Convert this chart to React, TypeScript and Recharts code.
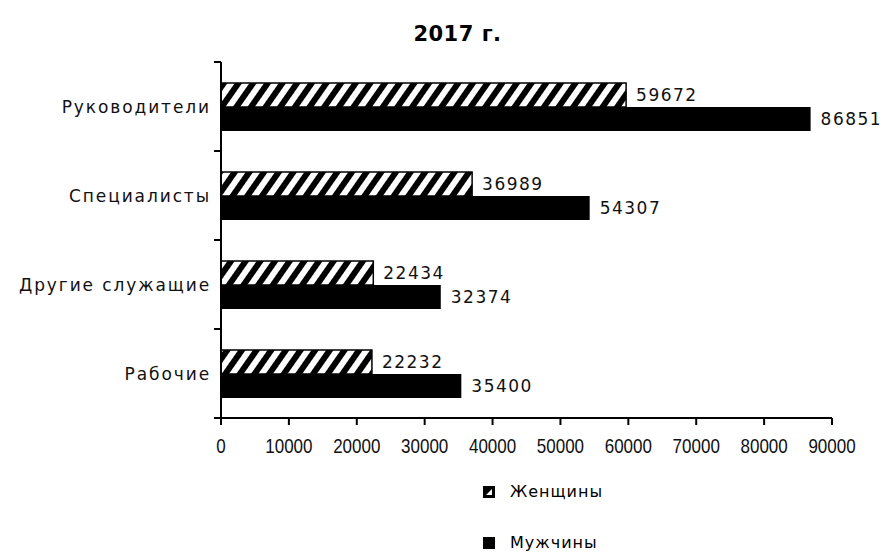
import { BarChart, Bar, XAxis, YAxis, LabelList } from "recharts";

const categories = ["Руководители", "Специалисты", "Другие служащие", "Рабочие"];
const women = [59672, 36989, 22434, 22232];
const men = [86851, 54307, 32374, 35400];
const xTicks = [0, 10000, 20000, 30000, 40000, 50000, 60000, 70000, 80000, 90000];

const data = categories.map((name, i) => ({ name, women: women[i], men: men[i] }));

const FONT = "'DejaVu Sans', Verdana, sans-serif";
const NARROW = "'Liberation Sans', Arial, sans-serif";
const BAND_HALF = 44.5;

function YTick({ x, y, payload }: any) {
  return (
    <g>
      <line x1={x + 8} y1={y - BAND_HALF} x2={x + 1} y2={y - BAND_HALF} stroke="#000" strokeWidth={2} />
      <line x1={x + 8} y1={y + BAND_HALF} x2={x + 1} y2={y + BAND_HALF} stroke="#000" strokeWidth={2} />
      <text x={x - 2} y={y} dy={6} textAnchor="end" fontSize={17} letterSpacing={1.9} fontFamily={FONT} fill="#111">
        {payload.value}
      </text>
    </g>
  );
}

function XTick({ x, y, payload }: any) {
  return (
    <text
      transform={`translate(${x},${y}) scale(0.85,1)`}
      x={0}
      y={0}
      dy={16}
      textAnchor="middle"
      fontSize={20}
      fontFamily={NARROW}
      fill="#111"
    >
      {payload.value}
    </text>
  );
}

function Swatch({ hatched }: { hatched: boolean }) {
  return (
    <svg width={14} height={14} style={{ marginRight: 14 }}>
      <rect x={1} y={1} width={12} height={12} fill="#000" />
      {hatched && <polygon points="4,10 10,4 10,10" fill="#fff" />}
    </svg>
  );
}

const labelStyle = { fontSize: 17, letterSpacing: 1.5, fontFamily: FONT, fill: "#111" };

export default function App() {
  return (
    <div style={{ position: "absolute", left: 0, top: 0, width: 887, height: 555, background: "#fff", fontFamily: FONT }}>
      <div style={{ position: "absolute", top: 22, left: 14, width: 887, textAlign: "center", fontWeight: 700, fontSize: 21, letterSpacing: 0.5 }}>
        2017 г.
      </div>
      <BarChart
        width={887}
        height={480}
        data={data}
        layout="vertical"
        margin={{ top: 62, right: 55, left: 0, bottom: 32 }}
        barGap={0}
        barSize={24}
      >
        <defs>
          <pattern id="hatch" patternUnits="userSpaceOnUse" width={12} height={12} patternTransform="rotate(35)">
            <rect width={12} height={12} fill="#fff" />
            <rect width={6} height={12} fill="#000" />
          </pattern>
        </defs>
        <XAxis
          type="number"
          domain={[0, 90000]}
          ticks={xTicks}
          interval={0}
          axisLine={{ stroke: "#000", strokeWidth: 2 }}
          tickLine={{ stroke: "#000", strokeWidth: 2 }}
          tickSize={7}
          tickMargin={12}
          tick={<XTick />}
          height={30}
        />
        <YAxis
          type="category"
          dataKey="name"
          width={221}
          axisLine={{ stroke: "#000", strokeWidth: 2 }}
          tickLine={false}
          tick={<YTick />}
        />
        <Bar dataKey="women" fill="url(#hatch)" stroke="#000" strokeWidth={1.5} isAnimationActive={false}>
          <LabelList dataKey="women" position="right" offset={10} {...labelStyle} />
        </Bar>
        <Bar dataKey="men" fill="#000" isAnimationActive={false}>
          <LabelList dataKey="men" position="right" offset={10} {...labelStyle} />
        </Bar>
      </BarChart>
      <div style={{ position: "absolute", left: 482, top: 482, fontSize: 16, letterSpacing: 1, display: "flex", alignItems: "center" }}>
        <Swatch hatched={true} />
        Женщины
      </div>
      <div style={{ position: "absolute", left: 482, top: 533, fontSize: 16, letterSpacing: 1, display: "flex", alignItems: "center" }}>
        <Swatch hatched={false} />
        Мужчины
      </div>
    </div>
  );
}
